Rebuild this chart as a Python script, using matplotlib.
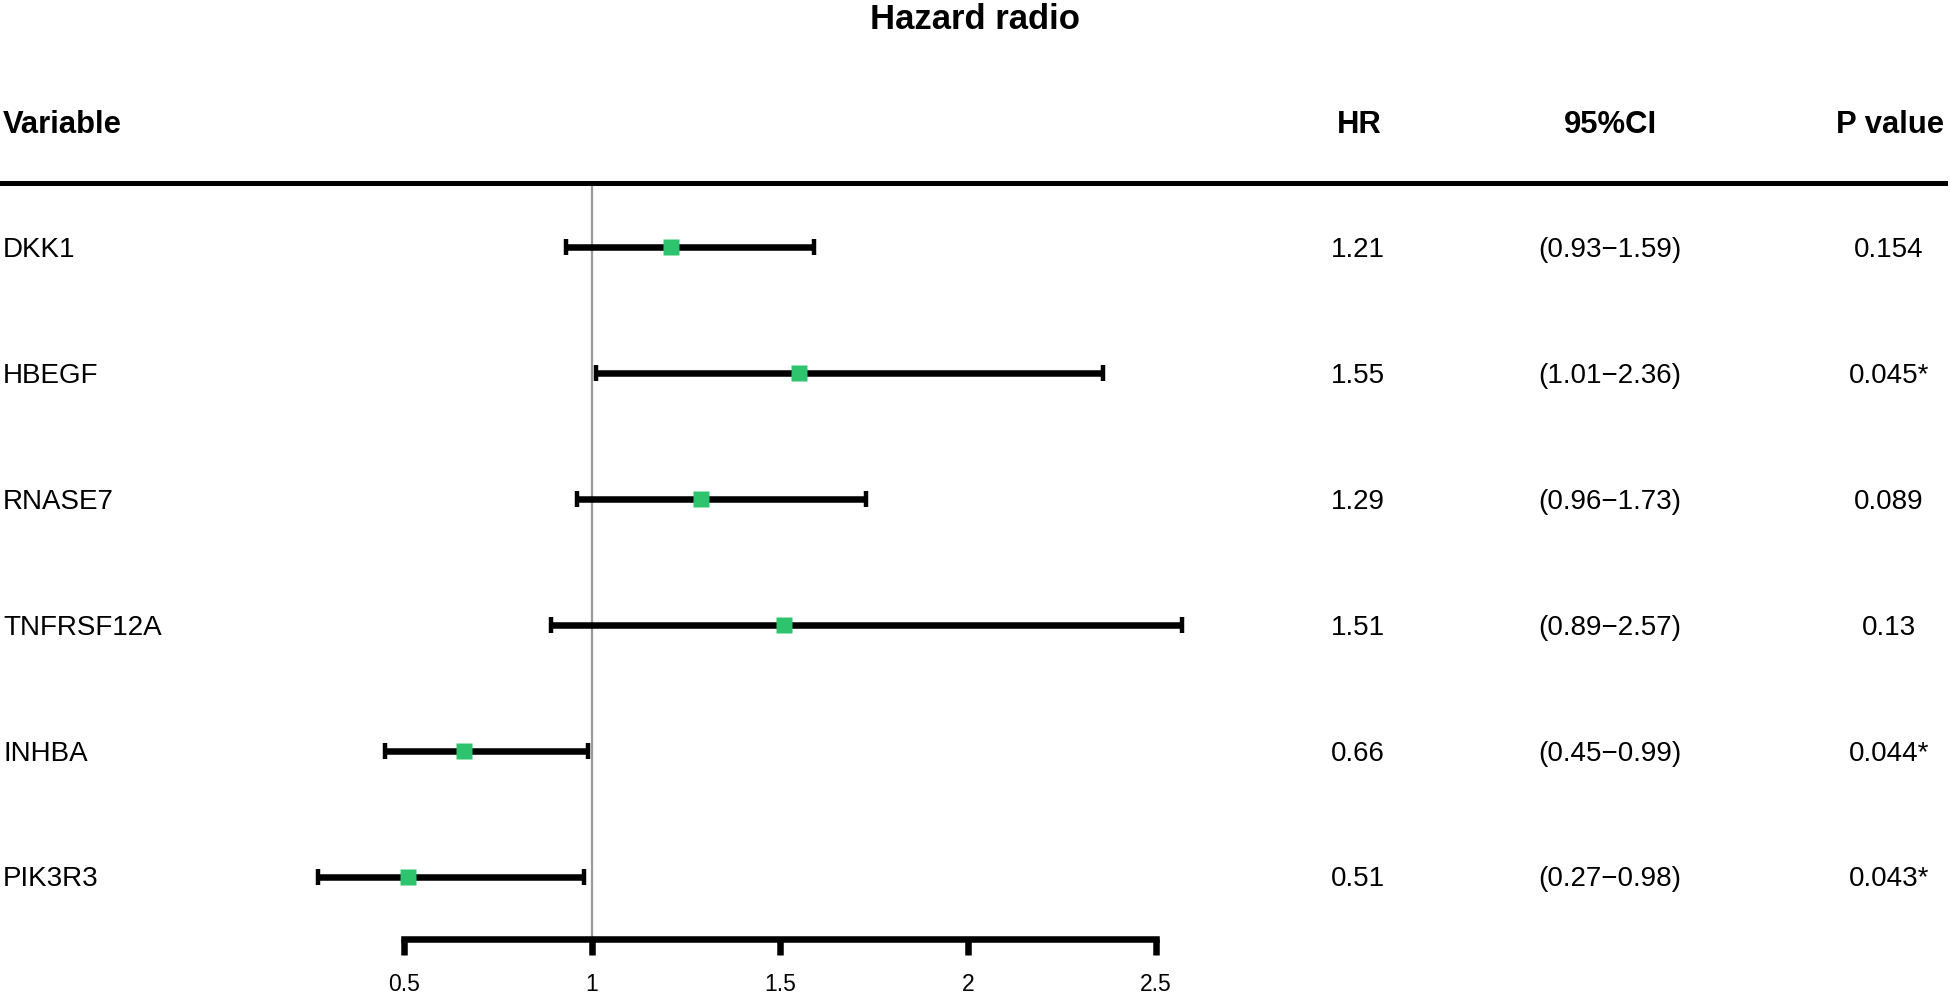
import matplotlib
matplotlib.use("Agg")
import matplotlib.pyplot as plt
import matplotlib.transforms as mtransforms
import numpy as np

plt.rcParams['font.family'] = ['Liberation Sans', 'DejaVu Sans']

# ---- data ----
variables = ["DKK1", "HBEGF", "RNASE7", "TNFRSF12A", "INHBA", "PIK3R3"]
hr = [1.21, 1.55, 1.29, 1.51, 0.66, 0.51]
ci_low = [0.93, 1.01, 0.96, 0.89, 0.45, 0.27]
ci_high = [1.59, 2.36, 1.73, 2.57, 0.99, 0.98]
p_values = ["0.154", "0.045*", "0.089", "0.13", "0.044*", "0.043*"]
x_ticks = [0.5, 1, 1.5, 2, 2.5]
x_tick_labels = ["0.5", "1", "1.5", "2", "2.5"]
headers = ["Variable", "HR", "95%CI", "P value"]
title = "Hazard radio"

W, H = 1950, 993
fig = plt.figure(figsize=(W / 100, H / 100), dpi=100)

# axes: pixel left 2, right 1945, top 183, bottom 939
ax = fig.add_axes([2 / W, 1 - 939 / H, 1943 / W, (939 - 183) / H])
ax.set_xlim(0.5 + (2 - 404) / 376, 0.5 + (1945 - 404) / 376)
ax.set_ylim((939 - 247) / 125.9, (183 - 247) / 125.9)

rows = np.arange(len(variables))
hr_a = np.array(hr)
lo_a = np.array(ci_low)
hi_a = np.array(ci_high)

ax.axvline(1, color='#9a9a9a', lw=1.6, zorder=1)
ax.errorbar(hr_a, rows, xerr=[hr_a - lo_a, hi_a - hr_a], fmt='none',
            ecolor='black', elinewidth=4.7, capsize=6.1, capthick=3.2, zorder=2)
ax.plot(hr_a, rows, linestyle='none', marker='s', markersize=12.2,
        markerfacecolor='#2EC46E', markeredgecolor='none', zorder=3)

for s in ['left', 'right']:
    ax.spines[s].set_visible(False)
ax.spines['top'].set_linewidth(3.6)
ax.spines['bottom'].set_linewidth(4.7)
ax.spines['bottom'].set_bounds(0.5, 2.5)
ax.set_yticks([])
ax.set_xticks(x_ticks)
ax.set_xticklabels(x_tick_labels)
ax.tick_params(axis='x', length=11.5, width=4.7, direction='out', pad=13,
               labelsize=16.5, colors='black')

# ---- texts ----
fig.text(975 / W, 1 - 29 / H, title, ha='center', va='baseline',
         fontsize=25, fontweight='bold')

hdr_base = 1 - 133 / H
fig.text(3 / W, hdr_base, headers[0], ha='left', va='baseline', fontsize=22.3, fontweight='bold')
fig.text(1359 / W, hdr_base, headers[1], ha='center', va='baseline', fontsize=22.3, fontweight='bold')
fig.text(1610 / W, hdr_base, headers[2], ha='center', va='baseline', fontsize=22.3, fontweight='bold')
fig.text(1890 / W, hdr_base, headers[3], ha='center', va='baseline', fontsize=22.3, fontweight='bold')

blend = mtransforms.blended_transform_factory(fig.transFigure, ax.transData)
trans = mtransforms.offset_copy(blend, fig=fig, y=-10, units='dots')
for i in range(len(variables)):
    ci_txt = "({:.2f}\u2212{:.2f})".format(ci_low[i], ci_high[i])
    ax.text(3 / W, rows[i], variables[i], transform=trans, ha='left', va='baseline', fontsize=20, clip_on=False)
    ax.text(1358 / W, rows[i], "{:.2f}".format(hr[i]), transform=trans, ha='center', va='baseline', fontsize=20, clip_on=False)
    ax.text(1610 / W, rows[i], ci_txt, transform=trans, ha='center', va='baseline', fontsize=20, clip_on=False)
    ax.text(1889 / W, rows[i], p_values[i], transform=trans, ha='center', va='baseline', fontsize=20, clip_on=False)

fig.savefig("out.png", dpi=100, facecolor='white')
